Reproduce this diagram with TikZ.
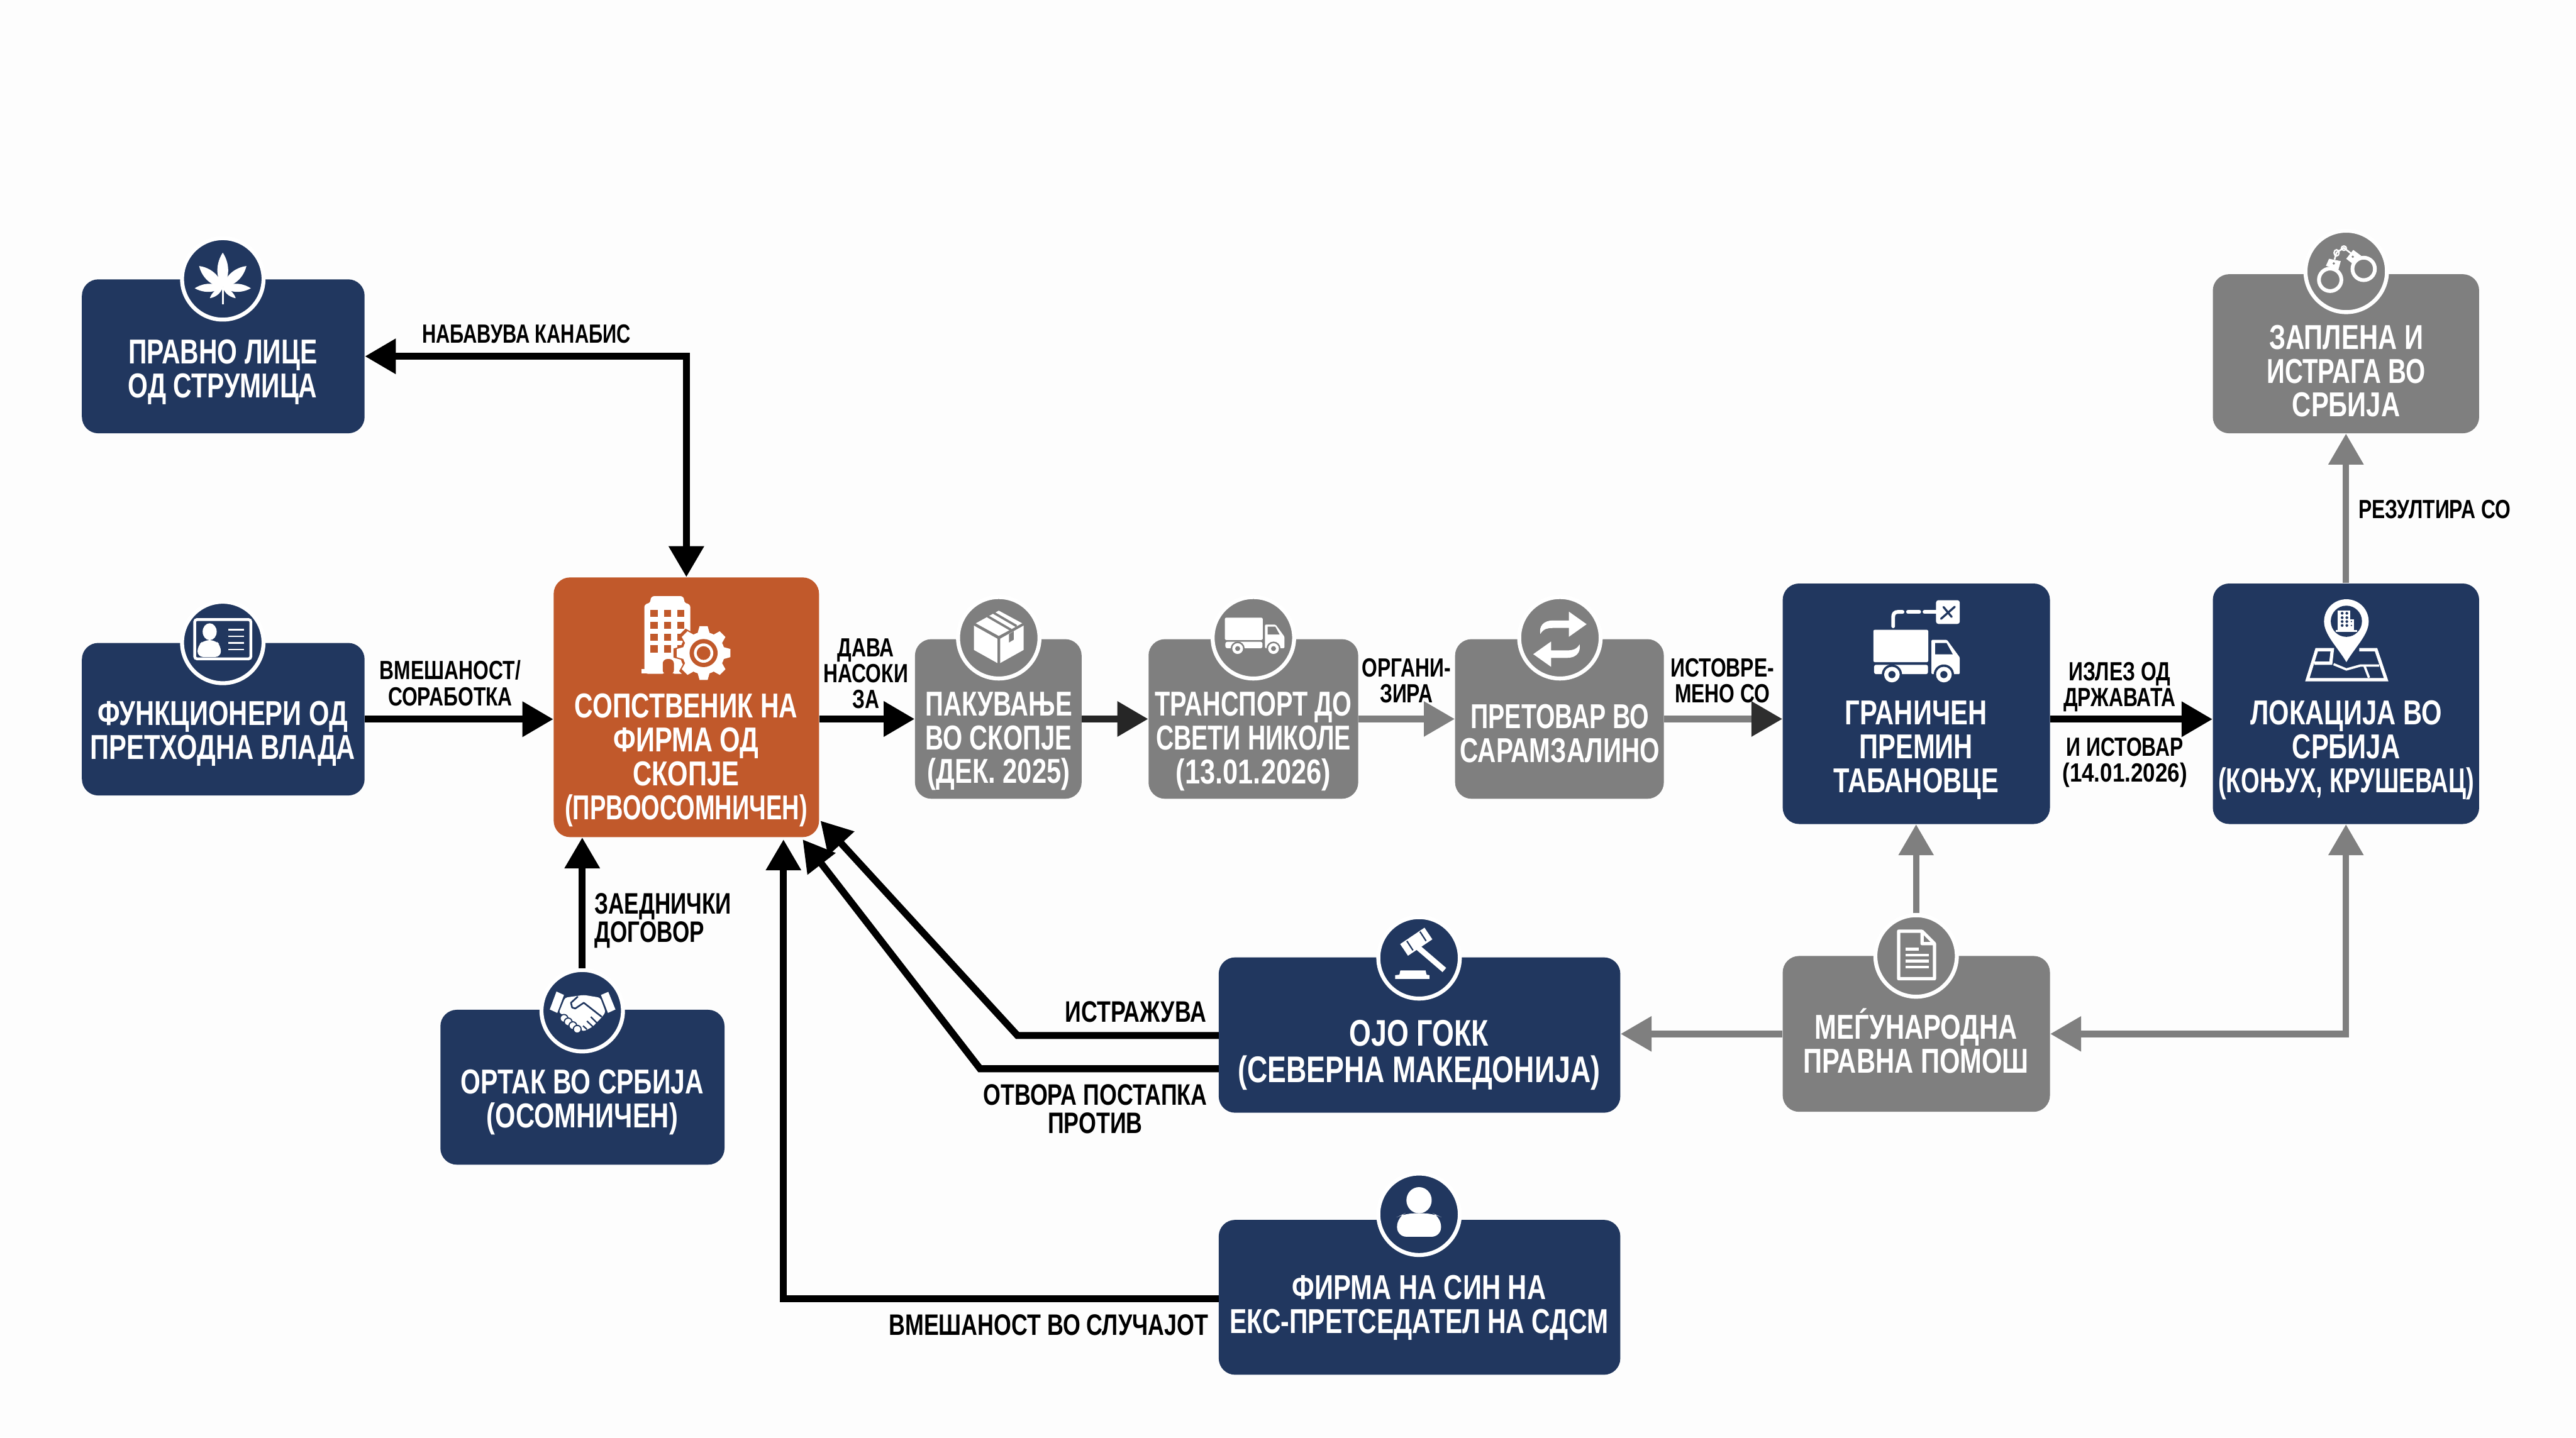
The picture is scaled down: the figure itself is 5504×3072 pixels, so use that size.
\documentclass[tikz,border=0pt]{standalone}
\usepackage{fontspec}
\setmainfont[FakeStretch=0.76]{Liberation Sans}
\usetikzlibrary{arrows.meta,fit,calc}
\definecolor{navy}{HTML}{21375F}
\definecolor{orangeb}{HTML}{C1592B}
\definecolor{grayb}{HTML}{7F7F7F}
\definecolor{paper}{HTML}{FDFDFD}
\colorlet{icbg}{navy}
\newcommand{\Sx}[2]{\scalebox{#1}[1]{#2}}
\tikzset{
  basebox/.style={rectangle,rounded corners=0.35cm,inner sep=0pt,draw=none},
  navybox/.style={basebox,fill=navy},
  graybox/.style={basebox,fill=grayb},
  orangebox/.style={basebox,fill=orangeb},
  ring/.style={circle,inner sep=0pt,minimum size=1.74cm,draw=white,line width=0.085cm},
  boxtxt/.style={inner sep=0pt,align=center,text=white,font=\fontsize{21}{20.6}\selectfont\bfseries},
  boxbig/.style={boxtxt,font=\fontsize{22.5}{22}\selectfont\bfseries},
  lbl/.style={inner sep=0pt,align=center,text=black,font=\fontsize{16}{15.7}\selectfont\bfseries},
  lblbig/.style={lbl,font=\fontsize{18}{17.3}\selectfont\bfseries},
  blk/.style={draw=black,line width=0.15cm,miter limit=10},
  gry/.style={draw=grayb,line width=0.14cm},
  tipk/.tip={Triangle[length=6.6mm,width=7.2mm]},
  ico/.style={fill=white,draw=none},
  icl/.style={draw=white,fill=none},
}
% ---- icons, drawn in zoom-crop units (3 units = 1 px) ----
\newcommand{\IcoLeaf}{%
  \foreach \a/\l/\w in {0/74/20,48/68/19,-48/68/19,92/60/15,-92/60/15,130/36/9,-130/36/9}{
    \fill[ico,rotate=\a] (0,0) .. controls (\w,-0.4*\l) and (0.5*\w,-0.8*\l) .. (0,-\l) .. controls (-0.5*\w,-0.8*\l) and (-\w,-0.4*\l) .. (0,0) -- cycle;
  }
  \draw[icl,line width=0.04cm] (0,0) -- (0,36);
}
\newcommand{\IcoCard}{%
  \draw[icl,line width=0.06cm,rounded corners=0.05cm] (-60,-42) rectangle (60,42);
  \fill[ico] (-28,-16) ellipse (15 and 18);
  \fill[ico,rounded corners=0.12cm] (-54,38) -- (-54,14) -- (-40,2) -- (-16,2) -- (-4,14) -- (-4,38) -- cycle;
  \foreach \y in {-20,-6,8,22}{\draw[icl,line width=0.035cm] (12,\y) -- (46,\y);}
}
\newcommand{\IcoBuilding}{%
  \fill[ico,rounded corners=0.08cm] (110,570) -- (110,120) -- (150,120) -- (150,72) -- (365,72) -- (365,120) -- (405,120) -- (405,570) -- cycle;
  \fill[ico] (92,540) rectangle (340,568);
  \fill[fill=icbg,rounded corners=0.1cm] (228,575) -- (228,475) -- (300,475) -- (300,575) -- cycle;
  \fill[fill=orangeb] (228,568) rectangle (300,590);
  \foreach \x in {150,235,320}{\foreach \y in {160,237,312,388}{\fill[fill=icbg] (\x,\y) rectangle ++(46,46);}}
  \begin{scope}[shift={(490,437)}]
    \begin{scope}[scale=1.12]\IcoGearShape{icbg}\end{scope}
    \IcoGearShape{white}
    \fill[fill=icbg] (0,0) circle (90);
    \fill[fill=white] (0,0) circle (62);
    \fill[fill=icbg] (0,0) circle (44);
  \end{scope}
}
\newcommand{\IcoGearShape}[1]{%
  \fill[fill=#1] (0,0) circle (135);
  \foreach \a in {0,45,...,315}{\fill[fill=#1,rotate=\a] (-26,-172) -- (26,-172) -- (42,-115) -- (-42,-115) -- cycle;}
}
\newcommand{\IcoBox}{%
  \fill[ico] (-53,-24) -- (-3,4) -- (-3,56) -- (-53,28) -- cycle;
  \fill[ico] (3,4) -- (53,-24) -- (53,28) -- (3,56) -- cycle;
  \fill[ico] (-49,-29) -- (0,-56) -- (50,-29) -- (0,-2) -- cycle;
  \draw[draw=icbg,line width=0.05cm] (-24,-44) -- (26,-15);
  \draw[draw=icbg,line width=0.05cm] (-12,-52) -- (38,-23);
  \fill[fill=icbg] (22,-6) -- (32,-12) -- (32,6) -- (22,12) -- cycle;
}
\newcommand{\IcoTruck}{%
  \fill[ico,rounded corners=0.03cm] (128,258) rectangle (480,465);
  \fill[ico,rounded corners=0.04cm] (133,482) rectangle (478,542);
  \fill[ico,rounded corners=0.02cm] (500,322) -- (600,322) -- (682,435) -- (682,542) -- (500,542) -- cycle;
  \fill[fill=icbg] (525,342) -- (597,342) -- (637,415) -- (525,415) -- cycle;
  \foreach \x in {247,580}{
    \fill[fill=icbg] (\x,545) circle (65);
    \fill[ico] (\x,545) circle (50);
    \fill[fill=icbg] (\x,545) circle (23);
  }
}
\newcommand{\IcoBarrier}{%
  \draw[icl,line width=0.08cm,line cap=round] (255,235) -- (255,175) .. controls (255,155) and (265,143) .. (285,143) -- (315,143);
  \draw[icl,line width=0.08cm,line cap=round] (350,143) -- (422,143);
  \draw[icl,line width=0.08cm,line cap=round] (456,143) -- (535,143);
  \fill[ico,rounded corners=0.05cm] (530,68) rectangle (682,220);
  \draw[draw=icbg,line width=0.045cm,line cap=round] (562,187) -- (650,110);
  \draw[draw=icbg,line width=0.045cm,line cap=round] (578,112) -- (630,175);
}
\newcommand{\IcoPin}{%
  \fill[ico] (400,465) .. controls (345,370) and (257,290) .. (257,205) .. controls (257,125) and (320,62) .. (400,62) .. controls (480,62) and (543,125) .. (543,205) .. controls (543,290) and (455,370) .. (400,465) -- cycle;
  \fill[fill=icbg] (400,203) circle (100);
  \fill[ico] (345,135) rectangle (425,260);
  \fill[ico] (425,192) rectangle (448,260);
  \fill[ico] (330,258) rectangle (470,270);
  \foreach \x in {373,403}{\foreach \y in {152,180,205,230}{\fill[fill=icbg] (\x,\y) circle (9);}}
  \foreach \y in {205,230}{\fill[fill=icbg] (432,\y) circle (5);}
  \draw[icl,line width=0.07cm,line join=miter] (483,385) -- (590,385) -- (655,578) -- (150,578) -- (210,385) -- (310,385) -- (300,472) -- (195,472);
  \draw[icl,line width=0.05cm] (318,478) -- (400,512) -- (490,487) -- (610,487);
  \draw[icl,line width=0.05cm] (515,487) -- (545,565);
}
\newcommand{\IcoDoc}{%
  \draw[icl,line width=0.07cm,line join=round] (320,120) -- (170,120) -- (170,425) -- (400,425) -- (400,200) -- (320,120) -- (320,200) -- (400,200);
  \draw[icl,line width=0.06cm] (213,235) -- (298,235);
  \foreach \y in {273,311,349}{\draw[icl,line width=0.06cm] (213,\y) -- (362,\y);}
}
\newcommand{\IcoCuffs}{%
  \draw[icl,line width=0.08cm] (197,360) circle (72);
  \draw[icl,line width=0.08cm] (412,290) circle (72);
  \fill[ico] (190,225) -- (265,240) -- (250,295) -- (170,270) -- cycle;
  \fill[ico] (345,168) -- (395,205) -- (345,260) -- (300,225) -- cycle;
  \fill[fill=icbg] (220,255) circle (8);
  \fill[fill=icbg] (342,212) circle (8);
  \draw[icl,line width=0.035cm] (225,230) -- (238,185) -- (285,155) -- (330,190);
  \draw[icl,line width=0.03cm] (238,187) ellipse (16 and 20);
  \draw[icl,line width=0.03cm] (285,157) ellipse (16 and 14);
}
\newcommand{\IcoShake}{%
  \fill[ico] (135,183) -- (183,205) -- (140,320) -- (92,298) -- cycle;
  \fill[ico] (420,205) -- (467,185) -- (513,298) -- (465,320) -- cycle;
  \fill[ico,rounded corners=0.05cm] (190,222) -- (310,205) -- (415,222) -- (450,315) -- (425,348) -- (365,410) -- (305,440) -- (270,405) -- (210,345) -- (150,320) -- cycle;
  \draw[draw=icbg,line width=0.035cm,line join=round] (272,215) -- (228,255) -- (235,285) -- (255,292) -- (310,255) -- (425,345);
  \draw[draw=icbg,line width=0.03cm] (355,345) -- (395,385);
  \draw[draw=icbg,line width=0.03cm] (330,372) -- (368,408);
  \draw[draw=icbg,line width=0.03cm] (305,403) -- (330,425);
  \foreach \x/\y in {183/355,210/378,240/402,268/425}{\fill[ico,draw=icbg,line width=0.025cm] (\x,\y) circle (25);}
}
\newcommand{\IcoGavel}{%
  \draw[icl,line width=0.12cm] (-2,-22) -- (54,26);
  \draw[icl,line width=0.3cm] (-32,-17) -- (20,-52);
  \draw[draw=icbg,line width=0.03cm] (-26,-36) -- (-13,-16);
  \draw[draw=icbg,line width=0.03cm] (2,-56) -- (15,-36);
  \fill[ico] (-40,27) -- (14,27) -- (16,36) -- (22,37) -- (22,45) -- (-51,45) -- (-51,37) -- (-42,36) -- cycle;
}
\newcommand{\IcoPerson}{%
  \fill[ico] (0,-30) ellipse (27 and 28);
  \fill[ico,rounded corners=0.2cm] (-47,48) -- (-47,6) -- (-30,-2) -- (30,-2) -- (47,6) -- (47,48) -- cycle;
}
\newcommand{\IcoSwap}{%
  \fill[ico] (57,-29) -- (19,-56) -- (19,-37) -- (-15,-37) .. controls (-35,-37) and (-45,-25) .. (-42,-8) .. controls (-35,-20) and (-25,-21) .. (-15,-21) -- (19,-21) -- (19,-2) -- cycle;
}
\begin{document}
\begin{tikzpicture}[x=0.01cm,y=-0.01cm]
\useasboundingbox (0,0) rectangle (5504,3072);
\fill[paper] (0,0) rectangle (5504,3072);

% ---- boxes ----
\node[navybox,fit={(175,597)(779,926)}] (pravno) {};
\node[navybox,fit={(175,1374)(779,1700)}] (funk) {};
\node[orangebox,fit={(1183,1234)(1750,1789)}] (sop) {};
\node[navybox,fit={(941,2158)(1548,2489)}] (ortak) {};
\node[graybox,fit={(1955,1366)(2311,1707)}] (pak) {};
\node[graybox,fit={(2454,1366)(2902,1707)}] (trans) {};
\node[graybox,fit={(3109,1366)(3555,1707)}] (pret) {};
\node[navybox,fit={(3809,1247)(4380,1761)}] (gran) {};
\node[navybox,fit={(4728,1247)(5297,1761)}] (lok) {};
\node[graybox,fit={(4728,586)(5297,926)}] (zap) {};
\node[graybox,fit={(3809,2043)(4380,2376)}] (meg) {};
\node[navybox,fit={(2604,2046)(3462,2378)}] (ojo) {};
\node[navybox,fit={(2604,2607)(3462,2938)}] (firma) {};

% ---- icon rings ----
\node[ring,fill=navy] (pravno-ic) at (476,596) {};
\node[ring,fill=navy] (funk-ic) at (476,1373) {};
\node[ring,fill=navy] (ortak-ic) at (1244,2160) {};
\node[ring,fill=grayb] (pak-ic) at (2134,1363) {};
\node[ring,fill=grayb] (trans-ic) at (2678,1363) {};
\node[ring,fill=grayb] (pret-ic) at (3333,1363) {};
\node[ring,fill=grayb] (zap-ic) at (5013,580) {};
\node[ring,fill=grayb] (meg-ic) at (4094,2043) {};
\node[ring,fill=navy] (ojo-ic) at (3032,2047) {};
\node[ring,fill=navy] (firma-ic) at (3032,2595) {};

% ---- icons ----
\begin{scope}[shift={(476,614)}]\IcoLeaf\end{scope}
\begin{scope}[shift={(476,1366)}]\IcoCard\end{scope}
\begin{scope}[shift={(1340,1250)},scale=1/3]\colorlet{icbg}{orangeb}\IcoBuilding\end{scope}
\begin{scope}[shift={(1144,2058)},scale=1/3]\IcoShake\end{scope}
\begin{scope}[shift={(2134,1361)}]\colorlet{icbg}{grayb}\IcoBox\end{scope}
\begin{scope}[shift={(2617-29.4,1320-59.3)},scale=0.23]\colorlet{icbg}{grayb}\IcoTruck\end{scope}
\begin{scope}[shift={(3333,1363)}]\colorlet{icbg}{grayb}\IcoSwap\begin{scope}[rotate=180,shift={(0,-6)}]\IcoSwap\end{scope}\end{scope}
\begin{scope}[shift={(3960,1260)},scale=1/3]\IcoTruck\IcoBarrier\end{scope}
\begin{scope}[shift={(4880,1260)},scale=1/3]\IcoPin\end{scope}
\begin{scope}[shift={(4913,478)},scale=1/3]\colorlet{icbg}{grayb}\IcoCuffs\end{scope}
\begin{scope}[shift={(4000,1950)},scale=1/3]\colorlet{icbg}{grayb}\IcoDoc\end{scope}
\begin{scope}[shift={(3032,2047)}]\IcoGavel\end{scope}
\begin{scope}[shift={(3032,2595)}]\IcoPerson\end{scope}

% ---- box texts ----
\node[boxtxt] (pravno-t) at (476,795) {\Sx{.98}{ПРАВНО ЛИЦЕ}\\\Sx{.98}{ОД СТРУМИЦА}};
\node[boxtxt] (funk-t) at (476,1568) {ФУНКЦИОНЕРИ ОД\\ПРЕТХОДНА ВЛАДА};
\node[boxtxt] (sop-t) at (1466,1625) {\Sx{.98}{СОПСТВЕНИК НА}\\ФИРМА ОД\\СКОПЈЕ\\\Sx{.91}{(ПРВООСОМНИЧЕН)}};
\node[boxtxt] (ortak-t) at (1244,2356) {\Sx{.98}{ОРТАК ВО СРБИЈА}\\(ОСОМНИЧЕН)};
\node[boxtxt] (pak-t) at (2134,1584) {\Sx{.96}{ПАКУВАЊЕ}\\\Sx{.96}{ВО СКОПЈЕ}\\(ДЕК. 2025)};
\node[boxtxt] (trans-t) at (2678,1584) {\Sx{.95}{ТРАНСПОРТ ДО}\\\Sx{.94}{СВЕТИ НИКОЛЕ}\\\Sx{1.04}{(13.01.2026)}};
\node[boxtxt] (pret-t) at (3333,1567) {\Sx{.94}{ПРЕТОВАР ВО}\\\Sx{.97}{САРАМЗАЛИНО}};
\node[boxtxt] (gran-t) at (4094,1603) {ГРАНИЧЕН\\ПРЕМИН\\ТАБАНОВЦЕ};
\node[boxtxt] (lok-t) at (5013,1603) {ЛОКАЦИЈА ВО\\СРБИЈА\\\Sx{.915}{(КОЊУХ, КРУШЕВАЦ)}};
\node[boxtxt] (zap-t) at (5013,793) {ЗАПЛЕНА И\\\Sx{.96}{ИСТРАГА ВО}\\СРБИЈА};
\node[boxtxt] (meg-t) at (4094,2224) {МЕЃУНАРОДНА\\ПРАВНА ПОМОШ};
\node[boxbig] (ojo-t) at (3032,2255) {ОЈО ГОКК\\(СЕВЕРНА МАКЕДОНИЈА)};
\node[boxtxt] (firma-t) at (3032,2795) {ФИРМА НА СИН НА\\\Sx{.98}{ЕКС-ПРЕТСЕДАТЕЛ НА СДСМ}};

% ---- free connector ends ----
\coordinate (ist-s) at (2604,2213);
\coordinate (ist-b) at (2174,2213);
\coordinate (ist-e) at (1753,1754);
\coordinate (otv-s) at (2604,2284);
\coordinate (otv-b) at (2094,2284);
\coordinate (otv-e) at (1715,1794);
\coordinate (vme-s) at (2604,2775);
\coordinate (vme-b) at (1674,2775);
\coordinate (vme-e) at (1674,1794);

% ---- connectors ----
\draw[blk,{tipk}-{tipk}] (pravno.east) -| (sop.north);
\draw[blk,-{tipk}] (funk.east) -- (sop.west |- funk.east);
\draw[blk,-{tipk}] (ortak-ic.north) -- (sop.south -| ortak-ic.north);
\draw[blk,-{tipk}] (sop.east |- pak.west) -- (pak.west);
\draw[draw=black!85,line width=0.15cm,-{tipk}] (pak.east) -- (trans.west);
\draw[gry,-{tipk}] (trans.east) -- (pret.west);
\draw[gry,-{Triangle[length=6.6mm,width=7.2mm,color=black!82]}] (pret.east) -- (gran.west |- pret.east);
\draw[blk,-{tipk}] (gran.east |- funk.east) -- (lok.west |- funk.east);
\draw[gry,-{tipk}] (lok.north) -- (zap.south);
\draw[gry,-{tipk}] (meg-ic.north) -- (gran.south -| meg-ic.north);
\draw[gry,{tipk}-{tipk}] (meg.east) -| (lok.south);
\draw[gry,-{tipk}] (meg.west) -- (ojo.east |- meg.west);
\draw[blk,-{tipk}] (ist-s) -- (ist-b) -- (ist-e);
\draw[blk,-{tipk}] (otv-s) -- (otv-b) -- (otv-e);
\draw[blk,-{tipk}] (vme-s) -- (vme-b) -- (vme-e);

% ---- connector labels ----
\node[lbl] (l-nab) at (1125,713) {\Sx{.97}{НАБАВУВА КАНАБИС}};
\node[lbl] (l-vme) at (962,1460) {ВМЕШАНОСТ/\\СОРАБОТКА};
\node[lbl] (l-dav) at (1850,1440) {ДАВА\\НАСОКИ\\ЗА};
\node[lbl] (l-org) at (3005,1455) {ОРГАНИ-\\ЗИРА};
\node[lbl] (l-ist) at (3680,1455) {ИСТОВРЕ-\\МЕНО СО};
\node[lbl] (l-izl) at (4529,1468) {ИЗЛЕЗ ОД\\ДРЖАВАТА};
\node[lbl] (l-ito) at (4540,1629) {И ИСТОВАР\\\Sx{1.1}{(14.01.2026)}};
\node[lbl,anchor=west] (l-rez) at (5039,1088) {РЕЗУЛТИРА СО};
\node[lblbig,anchor=west,align=left] (l-zaj) at (1270,1968) {\Sx{.98}{ЗАЕДНИЧКИ}\\\Sx{.98}{ДОГОВОР}};
\node[lblbig,anchor=east] (l-istr) at (2578,2162) {ИСТРАЖУВА};
\node[lblbig] (l-otv) at (2340,2370) {ОТВОРА ПОСТАПКА\\ПРОТИВ};
\node[lblbig,anchor=east] (l-vms) at (2582,2832) {ВМЕШАНОСТ ВО СЛУЧАЈОТ};
\end{tikzpicture}
\end{document}
